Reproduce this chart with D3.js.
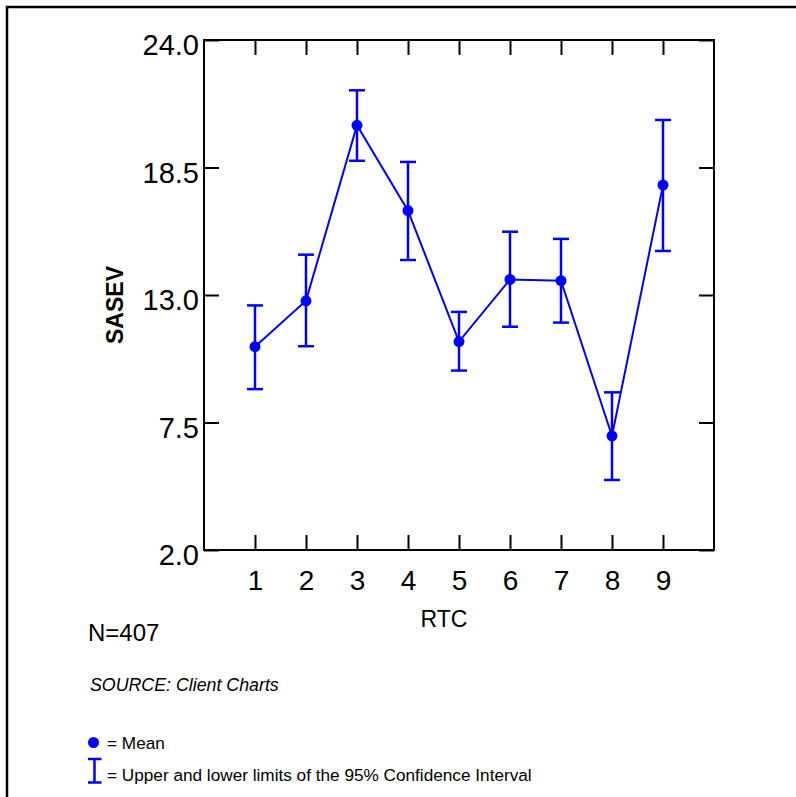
<!DOCTYPE html>
<html><head><meta charset="utf-8">
<script src="https://cdn.jsdelivr.net/npm/d3@7"></script>
<style>body{margin:0;background:#fff;} svg{display:block;font-family:"Liberation Sans",Arial,sans-serif;}</style>
</head><body>
<script>
const categories = [1,2,3,4,5,6,7,8,9];
const means = [10.77,12.75,20.32,16.64,10.99,13.67,13.62,6.92,17.74];
const upper = [12.55,14.74,21.83,18.74,12.27,15.73,15.42,8.80,20.55];
const lower = [8.94,10.79,18.79,14.51,9.74,11.63,11.81,5.02,14.90];
const yTicks = [2.0,7.5,13.0,18.5,24.0];

const W=796,H=797;
const svg=d3.select("body").append("svg").attr("width",W).attr("height",H);
const L=204,R=714,T=40,B=550;
const x=d3.scaleLinear().domain([0,10]).range([L,R]);
const y=d3.scaleLinear().domain([2,24]).range([B,T]);
const blue="#0000ff";

// outer frame (top and left)
svg.append("path").attr("d",`M7,${H} L7,7 L${W},7`).attr("fill","none").attr("stroke","#000").attr("stroke-width",2.5);

// plot box
svg.append("rect").attr("x",L).attr("y",T).attr("width",R-L).attr("height",B-T).attr("fill","none").attr("stroke","#000").attr("stroke-width",2);

const tl=15;
// left axis
const yl=d3.axisLeft(y).tickValues(yTicks).tickFormat(d3.format(".1f")).tickSize(-tl).tickPadding(5);
const gl=svg.append("g").attr("transform",`translate(${L},0)`).call(yl);
gl.select(".domain").remove();
gl.selectAll("line").attr("stroke","#000").attr("stroke-width",2);
gl.selectAll("text").attr("font-size",29).attr("fill","#000").attr("dy","0.5em").attr("font-family","Liberation Sans, Arial, sans-serif");
// right axis ticks
const yr=d3.axisRight(y).tickValues(yTicks).tickFormat("").tickSize(-tl);
const gr=svg.append("g").attr("transform",`translate(${R},0)`).call(yr);
gr.select(".domain").remove();
gr.selectAll("line").attr("stroke","#000").attr("stroke-width",2);
// bottom axis
const xb=d3.axisBottom(x).tickValues(categories).tickFormat(d3.format("d")).tickSize(-tl).tickPadding(20);
const gb=svg.append("g").attr("transform",`translate(0,${B})`).call(xb);
gb.select(".domain").remove();
gb.selectAll("line").attr("stroke","#000").attr("stroke-width",2);
gb.selectAll("text").attr("font-size",28).attr("fill","#000").attr("font-family","Liberation Sans, Arial, sans-serif");
// top axis ticks
const xt=d3.axisTop(x).tickValues(categories).tickFormat("").tickSize(-tl);
const gt=svg.append("g").attr("transform",`translate(0,${T})`).call(xt);
gt.select(".domain").remove();
gt.selectAll("line").attr("stroke","#000").attr("stroke-width",2);

// axis titles
svg.append("text").attr("x",444).attr("y",627).attr("text-anchor","middle").attr("font-size",23).text("RTC");
svg.append("text").attr("transform","translate(123,305) rotate(-90)").attr("text-anchor","middle").attr("font-size",23).attr("font-weight","bold").text("SASEV");

// error bars
const capW=8;
const eb=svg.append("g").attr("stroke",blue).attr("stroke-width",2.5).attr("fill","none");
categories.forEach((c,i)=>{
  const cx=x(c);
  eb.append("line").attr("x1",cx).attr("x2",cx).attr("y1",y(upper[i])).attr("y2",y(lower[i]));
  eb.append("line").attr("x1",cx-capW).attr("x2",cx+capW).attr("y1",y(upper[i])).attr("y2",y(upper[i]));
  eb.append("line").attr("x1",cx-capW).attr("x2",cx+capW).attr("y1",y(lower[i])).attr("y2",y(lower[i]));
});
// mean line
const line=d3.line().x((d,i)=>x(categories[i])).y(d=>y(d));
svg.append("path").datum(means).attr("d",line).attr("fill","none").attr("stroke",blue).attr("stroke-width",2);
svg.append("g").selectAll("circle").data(means).join("circle")
  .attr("cx",(d,i)=>x(categories[i])).attr("cy",d=>y(d)).attr("r",5.5).attr("fill",blue);

// notes
svg.append("text").attr("x",88).attr("y",641).attr("font-size",24).text("N=407");
svg.append("text").attr("x",90).attr("y",691).attr("font-size",17.8).attr("font-style","italic").text("SOURCE: Client Charts");

// legend
svg.append("circle").attr("cx",93.5).attr("cy",742.5).attr("r",5.5).attr("fill",blue);
svg.append("text").attr("x",107).attr("y",749).attr("font-size",17.2).text("= Mean");
const lg=svg.append("g").attr("stroke",blue).attr("stroke-width",2.5);
lg.append("line").attr("x1",94.5).attr("x2",94.5).attr("y1",759).attr("y2",782.5);
lg.append("line").attr("x1",88).attr("x2",101.5).attr("y1",759).attr("y2",759);
lg.append("line").attr("x1",88).attr("x2",101.5).attr("y1",782.5).attr("y2",782.5);
svg.append("text").attr("x",107).attr("y",781).attr("font-size",17.2).text("= Upper and lower limits of the 95% Confidence Interval");
</script>
</body></html>
